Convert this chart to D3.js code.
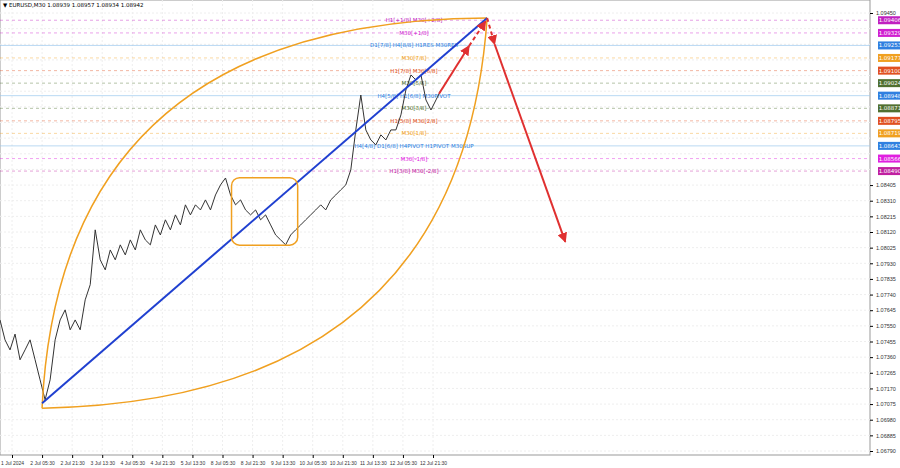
<!DOCTYPE html><html><head><meta charset="utf-8"><script src="https://cdn.jsdelivr.net/npm/d3@7"></script>
<style>body{margin:0;background:#fff}svg{font-family:"DejaVu Sans",sans-serif}</style></head><body><svg id="c" width="900" height="468"></svg>
<script>
const closes=[1.07586,1.07465,1.07404,1.07500,1.07344,1.07404,1.07465,1.07344,1.07222,1.07101,1.07222,1.07465,1.07586,1.07647,1.07526,1.07586,1.07526,1.07708,1.07800,1.08133,1.07951,1.07890,1.08011,1.07951,1.08042,1.07981,1.08072,1.08011,1.08133,1.08072,1.08042,1.08163,1.08102,1.08194,1.08133,1.08224,1.08163,1.08285,1.08224,1.08285,1.08254,1.08315,1.08254,1.08345,1.08406,1.08448,1.08345,1.08285,1.08315,1.08254,1.08224,1.08254,1.08194,1.08224,1.08163,1.08102,1.08072,1.08042,1.08102,1.08133,1.08163,1.08194,1.08224,1.08254,1.08285,1.08254,1.08315,1.08345,1.08376,1.08406,1.08497,1.08740,1.08952,1.08740,1.08679,1.08649,1.08710,1.08679,1.08740,1.08740,1.08831,1.08983,1.09074,1.09043,1.09074,1.08922,1.08861,1.08922,1.08983];
const timeLabels=["1 Jul 2024","2 Jul 05:30","2 Jul 21:30","3 Jul 13:30","4 Jul 05:30","4 Jul 21:30","5 Jul 13:30","8 Jul 05:30","8 Jul 21:30","9 Jul 13:30","10 Jul 05:30","10 Jul 21:30","11 Jul 13:30","12 Jul 05:30","12 Jul 21:30"];
const priceTicks=[1.09450,1.09355,1.09260,1.09165,1.09070,1.08975,1.08880,1.08785,1.08690,1.08595,1.08500,1.08405,1.08310,1.08215,1.08120,1.08025,1.07930,1.07835,1.07740,1.07645,1.07550,1.07455,1.07360,1.07265,1.07170,1.07075,1.06980,1.06885,1.06790];
const levelPrices=[1.09406,1.09329,1.09253,1.09177,1.09100,1.09024,1.08948,1.08871,1.08795,1.08719,1.08643,1.08566,1.08490];
const levelLabels=["H1[+1/8] M30[+2/8]","M30[+1/8]","D1[7/8] H4[8/8] H1RES M30RES","M30[7/8]","H1[7/8] M30[6/8]","M30[5/8]","H4[5/8] H1[6/8] M30PIVOT","M30[3/8]","H1[5/8] M30[2/8]","M30[1/8]","H4[4/8] D1[6/8] H4PIVOT H1PIVOT M30SUP","M30[-1/8]","H1[3/8] M30[-2/8]"];
const levelColors=["#c020c0","#d020d0","#3080e0","#f0a020","#e05020","#507030","#3080e0","#507030","#e05020","#f0a020","#3080e0","#e020e0","#c020a0"];
// drawing anchors: [time index in label units, price] start, control, end
const upperArc=[[1,1.07050],[1.6,1.09406],[15.8,1.09420]];
const lowerArc=[[1,1.07050],[14.9,1.07100],[15.8,1.09420]];
const trendLine=[[1,1.07080],[15.8,1.09420]];
const boxPts=[[7.3,1.08450],[9.5,1.08040]];
const arrowsSolid=[[[14.2,1.08960],[15.2,1.09250]],[[16.05,1.09260],[18.4,1.08060]]];
const arrowsDashed=[[[15.2,1.09250],[15.75,1.09400]],[[15.8,1.09420],[16.05,1.09260]]];

const svg=d3.select("#c");
const W=870,H=455;
const x=d3.scaleLinear().domain([0,14]).range([12,433]);
const y=d3.scaleLinear().domain([1.06790,1.09450]).range([451,13]);
const xi=d3.scaleLinear().domain([0,closes.length-1]).range([0,441]);
svg.append("rect").attr("x",0).attr("y",0).attr("width",W).attr("height",H).attr("fill","#fff").attr("stroke","#999");
svg.append("g").selectAll("line").data(priceTicks).join("line").attr("x1",0).attr("x2",W).attr("y1",d=>y(d)).attr("y2",d=>y(d)).attr("stroke","#eee").attr("stroke-dasharray","2,2");
svg.append("g").selectAll("line").data(timeLabels).join("line").attr("x1",(d,i)=>x(i)).attr("x2",(d,i)=>x(i)).attr("y1",0).attr("y2",H).attr("stroke","#eee").attr("stroke-dasharray","2,2");
levelPrices.forEach((p,i)=>{
 const c=levelColors[i];const blue=c=="#3080e0";
 svg.append("line").attr("x1",0).attr("x2",W).attr("y1",y(p)).attr("y2",y(p)).attr("stroke",blue?"#9cc8ee":c).attr("stroke-opacity",blue?1:0.6).attr("stroke-dasharray",blue?null:"3,3").attr("stroke-width",0.7);
 svg.append("text").attr("x",414).attr("y",y(p)+2).attr("text-anchor","middle").attr("font-size",5.5).attr("fill",c).text(levelLabels[i]);
});
svg.append("path").datum(closes).attr("d",d3.line().x((d,i)=>xi(i)).y(d=>y(d))).attr("fill","none").attr("stroke","#333").attr("stroke-width",1);
const P=d=>[x(d[0]),y(d[1])];
function quad(a){const p=a.map(P);const pa=d3.path();pa.moveTo(...p[0]);pa.quadraticCurveTo(...p[1],...p[2]);return pa.toString();}
svg.append("path").attr("d",quad(upperArc)).attr("fill","none").attr("stroke","#f0a020").attr("stroke-width",1.5);
svg.append("path").attr("d",quad(lowerArc)).attr("fill","none").attr("stroke","#f0a020").attr("stroke-width",1.5);
svg.append("path").attr("d",d3.line()(trendLine.map(P))).attr("stroke","#2040d0").attr("stroke-width",2);
const b0=P(boxPts[0]),b1=P(boxPts[1]);
svg.append("rect").attr("x",b0[0]).attr("y",b0[1]).attr("width",b1[0]-b0[0]).attr("height",b1[1]-b0[1]).attr("rx",8).attr("fill","none").attr("stroke","#f0a020").attr("stroke-width",1.5);
const defs=svg.append("defs");
defs.append("marker").attr("id","ah").attr("viewBox","0 0 10 10").attr("refX",9).attr("refY",5).attr("markerWidth",5).attr("markerHeight",5).attr("orient","auto").append("path").attr("d","M0,0L10,5L0,10z").attr("fill","#e03030");
arrowsSolid.forEach(a=>svg.append("path").attr("d",d3.line()(a.map(P))).attr("stroke","#e03030").attr("stroke-width",2).attr("marker-end","url(#ah)"));
arrowsDashed.forEach(a=>svg.append("path").attr("d",d3.line()(a.map(P))).attr("stroke","#e03030").attr("stroke-width",2).attr("stroke-dasharray","4,3").attr("marker-end","url(#ah)"));
const visTicks=priceTicks.filter(t=>levelPrices.every(p=>Math.abs(y(p)-y(t))>7));
const ya=svg.append("g").attr("transform",`translate(${W},0)`).call(d3.axisRight(y).tickValues(visTicks).tickFormat(d3.format(".5f")).tickSize(3));
ya.selectAll("text").attr("font-size",5.5).attr("fill","#333");ya.select(".domain").remove();
const xa=svg.append("g").attr("transform",`translate(0,${H})`).call(d3.axisBottom(x).tickValues(d3.range(timeLabels.length)).tickFormat(i=>timeLabels[i]).tickSize(3));
xa.selectAll("text").attr("font-size",5).attr("fill","#333");xa.select(".domain").remove();
levelPrices.forEach((p,i)=>{
 const g=svg.append("g").attr("transform",`translate(${W+8},${y(p)})`);
 g.append("rect").attr("x",0).attr("y",-4).attr("width",24).attr("height",8).attr("fill",levelColors[i]);
 g.append("text").attr("x",12).attr("y",2).attr("text-anchor","middle").attr("font-size",5.5).attr("fill","#fff").text(p.toFixed(5));
});
svg.append("text").attr("x",3).attr("y",7).attr("font-size",5.5).attr("fill","#000").text("▼ EURUSD,M30  1.08939 1.08957 1.08934 1.08942");
</script></body></html>
